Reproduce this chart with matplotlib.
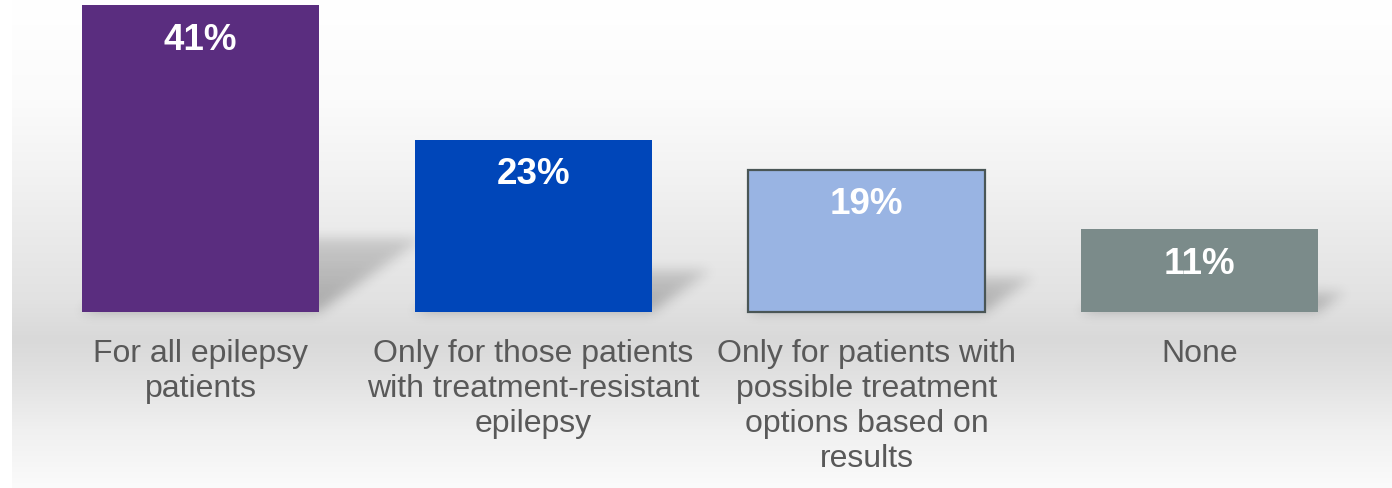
import numpy as np
import matplotlib
matplotlib.use("Agg")
import matplotlib.pyplot as plt

# Survey answers and their shares (%)
categories = [
    "For all epilepsy\npatients",
    "Only for those patients\nwith treatment-resistant\nepilepsy",
    "Only for patients with\npossible treatment\noptions based on\nresults",
    "None",
]
values = [41, 23, 19, 11]
value_labels = ["41%", "23%", "19%", "11%"]
bar_colors = ["#5a2d7f", "#0046b9", "#99b4e3", "#7b8b8a"]
edge_colors = ["none", "none", "#4a5656", "none"]

W, H, DPI = 1392, 489, 100
fig = plt.figure(figsize=(W / DPI, H / DPI), dpi=DPI)
fig.patch.set_facecolor("white")
ax = fig.add_axes([0, 0, 1, 1])

# axis limits: baseline sits at pixel row 312.5, 7.47 px per percentage point
px_per_unit = 7.47
base_px = 312.5
y_lo = -(H - base_px) / px_per_unit
y_hi = base_px / px_per_unit
x_step = 333.0
x_lo = -200.5 / x_step
x_hi = (W - 200.5) / x_step
ax.set_xlim(x_lo, x_hi)
ax.set_ylim(y_lo, y_hi)
ax.axis("off")

# soft grey backdrop: white at top, darkest just below the baseline, fading out at bottom
rows = np.arange(H)
stops_px = [0, 100, 170, 230, 300, 340, 380, 430, 489]
stops_gray = [255, 251, 243, 235, 226, 217, 226, 240, 251]
gray = np.interp(rows, stops_px, stops_gray) / 255.0
panel_left = 12
bg = np.ones((H, W, 3))
bg[:, panel_left:, :] = gray[:, None, None]
ax.imshow(bg, extent=[x_lo, x_hi, y_lo, y_hi], origin="upper",
          aspect="auto", zorder=0, interpolation="nearest")

# cast shadows: each bar projected onto the floor, skewed up and to the right
bar_width = 0.712
xs = x_lo + (np.arange(W) + 0.5) / W * (x_hi - x_lo)
ys = y_hi - (np.arange(H) + 0.5) / H * (y_hi - y_lo)
X, Y = np.meshgrid(xs, ys)
shadow = np.zeros((H, W))
for i, v in enumerate(values):
    left, right = i - bar_width / 2, i + bar_width / 2
    dy = 0.24 * v                              # height of the shadow, data units
    dx = 0.34 * v * px_per_unit / x_step       # sideways shift, data units
    t = Y / dy
    inside = (Y >= 0) & (Y <= dy) & (X >= left + t * dx) & (X <= right + t * dx)
    # shadow fades as it stretches away from the bar
    fade = np.clip(1.0 - 0.45 * t, 0, 1)
    shadow = np.maximum(shadow, inside * fade)


def blur(img, sigma):
    r = int(3 * sigma)
    k = np.exp(-0.5 * (np.arange(-r, r + 1) / sigma) ** 2)
    k /= k.sum()
    out = np.apply_along_axis(lambda m: np.convolve(m, k, mode="same"), 1, img)
    out = np.apply_along_axis(lambda m: np.convolve(m, k, mode="same"), 0, out)
    return out


shadow = blur(shadow, 6)
shadow_rgba = np.zeros((H, W, 4))
shadow_rgba[..., 3] = 0.25 * shadow
ax.imshow(shadow_rgba, extent=[x_lo, x_hi, y_lo, y_hi], origin="upper",
          aspect="auto", zorder=1, interpolation="bilinear")

# the bars
pos = np.arange(len(values))
bars = ax.bar(pos, values, width=bar_width, color=bar_colors, zorder=2)
for b, ec in zip(bars, edge_colors):
    if ec != "none":
        b.set_edgecolor(ec)
        b.set_linewidth(1.6)

font = "Liberation Sans"
for x, v, lab in zip(pos, values, value_labels):
    ax.annotate(lab, (x, v), xytext=(0, -24.5), textcoords="offset points",
                ha="center", va="center", color="white", fontsize=26.5,
                fontweight="bold", family=font, zorder=3)

for x, cat in zip(pos, categories):
    ax.annotate(cat, (x, 0), xytext=(0, -19), textcoords="offset points",
                ha="center", va="top", color="#595959", fontsize=23,
                family=font, linespacing=1.22, zorder=3)

fig.savefig("out.png", dpi=DPI)
